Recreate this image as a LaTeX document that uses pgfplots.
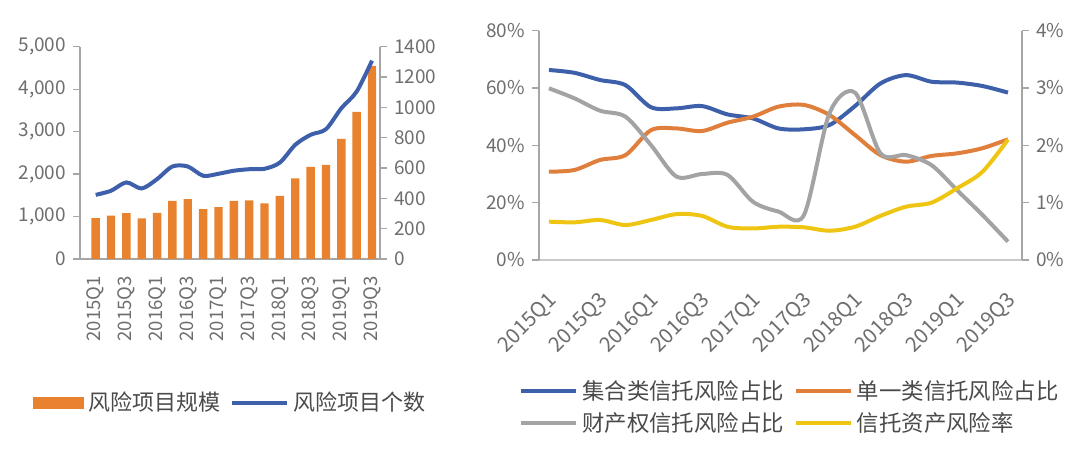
\documentclass[border=0pt]{standalone}
\usepackage{fontspec}
\setmainfont{Noto Sans CJK SC}
\usepackage{pgfplots}
\usepackage{pgfplotstable}
\pgfplotsset{compat=1.18}

\definecolor{barorange}{HTML}{E8822E}
\definecolor{lblue}{HTML}{3E5FA9}
\definecolor{lorange}{HTML}{E07E3C}
\definecolor{lgray}{HTML}{A3A3A3}
\definecolor{lyellow}{HTML}{EFC514}
\definecolor{ticktext}{HTML}{6E6E6E}
\definecolor{legtext}{HTML}{4A4A4A}
\definecolor{axisgray}{HTML}{A6A6A6}

% risk projects: scale (left axis), count (right axis)
\pgfplotstableread{
x scale count
0 964 423
1 1019 450
2 1081 505
3 956 465
4 1089 527
5 1371 610
6 1411 610
7 1176 549
8 1223 562
9 1371 582
10 1379 592
11 1309 595
12 1489 636
13 1897 753
14 2171 819
15 2218 856
16 2829 994
17 3464 1104
18 4550 1308
}\leftdata

% shares (%) and trust asset risk rate (%)
\pgfplotstableread{
x jh dy ccq rate
0 66.3 30.8 59.9 0.669
1 65.3 31.4 56.4 0.657
2 62.8 34.9 52.1 0.698
3 61.0 36.6 50.0 0.610
4 53.3 45.3 40.1 0.698
5 52.9 45.9 29.1 0.800
6 53.7 45.0 30.0 0.770
7 50.8 47.9 29.7 0.580
8 49.4 50.0 20.3 0.550
9 45.9 53.5 16.9 0.580
10 45.6 54.1 15.7 0.570
11 47.1 50.6 51.2 0.510
12 53.7 43.6 58.4 0.580
13 61.6 36.6 37.2 0.770
14 64.5 34.3 36.6 0.930
15 62.2 36.3 33.1 1.000
16 61.9 37.2 24.4 1.250
17 60.7 39.0 15.7 1.540
18 58.4 42.1 6.4 2.100
}\rightdata

\pgfplotsset{
  base/.style={
    scale only axis,
    clip=false,
    /pgf/number format/assume math mode=true,
    tick label style={font=\fontsize{9.5}{11}\selectfont, text=ticktext},
    axis line style={axisgray, line width=0.6pt},
    tick style={axisgray, line width=0.6pt},
    tick align=outside,
    major tick length=3.5pt,
    xtick style={draw=none},
  },
  leftbox/.style={at={(40pt,97.5pt)}, anchor=south west, width=150pt, height=106.15pt,
    xmin=-1.02, xmax=18.52},
  rightbox/.style={at={(269.5pt,97pt)}, anchor=south west, width=241.5pt, height=114.65pt,
    xmin=-0.39, xmax=18.55},
  barleg/.style={legend image code/.code={\fill[##1] (0pt,-3pt) rectangle (25.5pt,3pt);}},
  lineleg/.style={legend image code/.code={\draw[##1] (0pt,0pt) -- (27.5pt,0pt);}},
}

\begin{document}
\begin{tikzpicture}
\useasboundingbox (0,0) rectangle (540pt,227pt);

% ---------- left chart ----------
\begin{axis}[base, leftbox,
  ymin=0, ymax=5000, ytick={0,1000,...,5000},
  axis y line*=left, axis x line*=bottom,
  yticklabel style={/pgf/number format/1000 sep={,}},
  xtick={0,2,...,18},
  xticklabels={2015Q1,2015Q3,2016Q1,2016Q3,2017Q1,2017Q3,2018Q1,2018Q3,2019Q1,2019Q3},
  xticklabel style={rotate=90, anchor=east, font=\fontsize{9.3}{10}\selectfont},
  xticklabel shift=1.5pt,
  legend style={at={(-0.177,-0.678)}, anchor=west, draw=none, fill=none,
    legend columns=-1, font=\fontsize{11}{13}\selectfont, text=legtext,
    /tikz/every even column/.append style={column sep=3pt}},
]
\addplot[ybar, bar width=4.2pt, fill=barorange, draw=none, barleg]
  table[x=x, y=scale]{\leftdata};
\addlegendentry{风险项目规模}
\addlegendimage{lineleg, lblue, line width=2pt}
\addlegendentry{风险项目个数}
\end{axis}

\begin{axis}[base, leftbox,
  ymin=0, ymax=1400, ytick={0,200,...,1400},
  axis y line*=right, axis x line=none,
  yticklabel style={/pgf/number format/1000 sep={}},
]
\addplot[lblue, line width=2pt, smooth] table[x=x, y=count]{\leftdata};
\end{axis}

% ---------- right chart ----------
\begin{axis}[base, rightbox,
  ymin=0, ymax=80, ytick={0,20,...,80},
  yticklabel={\pgfmathprintnumber{\tick}\%},
  axis y line*=left, axis x line*=bottom,
  x axis line style={draw=axisgray!60},
  xtick={0,2,...,18},
  xticklabels={2015Q1,2015Q3,2016Q1,2016Q3,2017Q1,2017Q3,2018Q1,2018Q3,2019Q1,2019Q3},
  xticklabel style={font=\fontsize{10.3}{12}\selectfont, xshift=-1pt, rotate=45, anchor=north east},
  xticklabel shift=7pt,
  legend cell align=left,
  legend style={at={(-0.054,-0.643)}, anchor=west, draw=none, fill=none,
    legend columns=2, font=\fontsize{11.2}{13}\selectfont, text=legtext,
    /tikz/every even column/.append style={column sep=3pt},
    row sep=1pt},
]
\addplot[lblue, line width=2pt, smooth, lineleg] table[x=x, y=jh]{\rightdata};
\addlegendentry{集合类信托风险占比}
\addplot[lorange, line width=2pt, smooth, lineleg] table[x=x, y=dy]{\rightdata};
\addlegendentry{单一类信托风险占比}
\addplot[lgray, line width=2pt, smooth, lineleg] table[x=x, y=ccq]{\rightdata};
\addlegendentry{财产权信托风险占比}
\addlegendimage{lineleg, lyellow, line width=2pt}
\addlegendentry{信托资产风险率}
\end{axis}

\begin{axis}[base, rightbox,
  ymin=0, ymax=4, ytick={0,1,...,4},
  yticklabel={\pgfmathprintnumber{\tick}\%},
  axis y line*=right, axis x line=none,
]
\addplot[lyellow, line width=2pt, smooth] table[x=x, y=rate]{\rightdata};
\end{axis}
\end{tikzpicture}
\end{document}
